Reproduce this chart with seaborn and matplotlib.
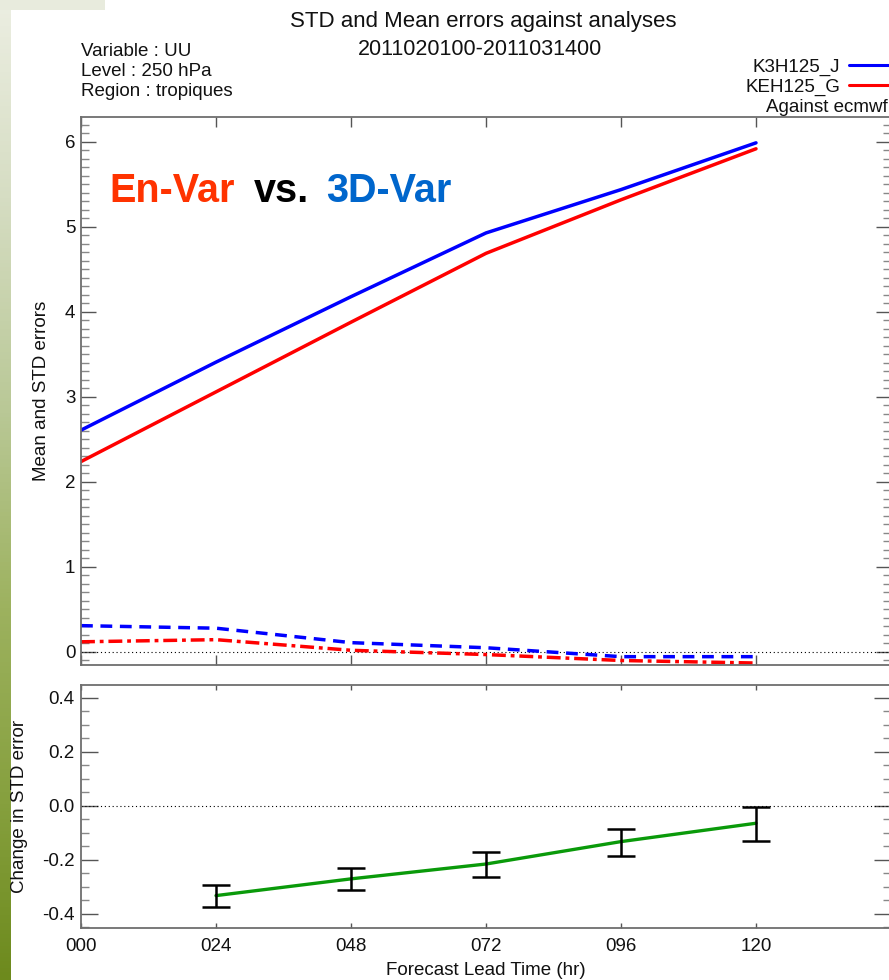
import numpy as np
import pandas as pd
import matplotlib
matplotlib.use("Agg")
import matplotlib.pyplot as plt
from matplotlib.lines import Line2D
from matplotlib.patches import Rectangle
from matplotlib.ticker import MultipleLocator, FixedLocator, FormatStrFormatter
from matplotlib.colors import LinearSegmentedColormap
import seaborn as sns

# ---- verification scores against ECMWF analyses, UU at 250 hPa, tropics ----
lead_hours = [0, 24, 48, 72, 96, 120]
tick_labels = ["000", "024", "048", "072", "096", "120"]

std_k3h = [2.61, 3.41, 4.18, 4.93, 5.44, 5.99]
std_keh = [2.24, 3.06, 3.88, 4.69, 5.32, 5.92]
mean_k3h = [0.31, 0.28, 0.11, 0.05, -0.055, -0.055]
mean_keh = [0.12, 0.145, 0.02, -0.03, -0.10, -0.13]

diff_hours = [24, 48, 72, 96, 120]
std_change = [-0.332, -0.270, -0.215, -0.132, -0.064]
ci_low = [-0.375, -0.310, -0.262, -0.184, -0.128]
ci_high = [-0.293, -0.230, -0.172, -0.085, -0.002]

exp_names = ["K3H125_J", "KEH125_G"]
exp_colors = ["#0000ff", "#ff0000"]

sns.set_style("ticks")
plt.rcParams["font.family"] = ["Liberation Sans", "DejaVu Sans"]
plt.rcParams["axes.unicode_minus"] = False

W, H = 889, 980
fig = plt.figure(figsize=(W / 100, H / 100), dpi=100, facecolor="white")


def fx(px):
    return px / W


def fy(py):
    return 1 - py / H


# slide backdrop: pale corner and olive side strip
bg = fig.add_axes([0, 0, 1, 1], zorder=-5)
bg.set_axis_off()
strip_cmap = LinearSegmentedColormap.from_list(
    "strip",
    [(0.0, "#eceee2"), (0.2, "#d6ddc3"), (0.42, "#b9c896"),
     (0.62, "#9db25f"), (0.82, "#86a03e"), (1.0, "#6d8a1d")],
)
bg.imshow(np.linspace(0, 1, 256).reshape(-1, 1), cmap=strip_cmap,
          extent=[0, 11, H, 0], aspect="auto")
bg.add_patch(Rectangle((0, 0), 105, 10, color="#e8ebdd", lw=0))
bg.set_xlim(0, W)
bg.set_ylim(H, 0)

spine_col = "#6e6e6e"
tick_col = "#555555"

# ---- upper panel: STD (solid) and mean (broken) errors ----
ax1 = fig.add_axes([fx(81), fy(665), (891 - 81) / W, (665 - 117) / H])
df = pd.DataFrame({
    "hour": lead_hours * 4,
    "value": std_k3h + std_keh + mean_k3h + mean_keh,
    "series": (["K3H125_J std"] * 6 + ["KEH125_G std"] * 6
               + ["K3H125_J mean"] * 6 + ["KEH125_G mean"] * 6),
})
palette = {"K3H125_J std": exp_colors[0], "KEH125_G std": exp_colors[1],
           "K3H125_J mean": exp_colors[0], "KEH125_G mean": exp_colors[1]}
dashes = {"K3H125_J std": "", "KEH125_G std": "",
          "K3H125_J mean": (3.4, 2.2), "KEH125_G mean": (4.0, 1.4, 1.1, 1.4)}
sns.lineplot(data=df, x="hour", y="value", hue="series", style="series",
             palette=palette, dashes=dashes, lw=2.5, legend=False, ax=ax1)
ax1.axhline(0, color="black", lw=0.8, ls=(0, (1, 2.5)), zorder=1)

ax1.set_xlim(0, 144)
ax1.set_ylim(-0.153, 6.294)
ax1.xaxis.set_major_locator(FixedLocator([0, 24, 48, 72, 96, 120, 144]))
ax1.yaxis.set_major_locator(MultipleLocator(1))
ax1.yaxis.set_minor_locator(MultipleLocator(0.1))
ax1.tick_params(axis="x", which="major", direction="in", length=7.5, width=1,
                color=tick_col, top=True, bottom=True, labelbottom=False)
ax1.tick_params(axis="y", which="major", direction="in", length=10.8, width=1,
                color=tick_col, left=True, right=True, labelsize=13.5, pad=4)
ax1.tick_params(axis="y", which="minor", direction="in", length=5.8, width=1,
                color="#888888", left=True, right=True)
ax1.set_xlabel("")
ax1.set_ylabel("Mean and STD errors", fontsize=13.5, color="#111111")
ax1.yaxis.label.set_va("center")
ax1.yaxis.set_label_coords((42 - 81) / 810, 0.5)

# ---- lower panel: change in STD error with confidence bars ----
ax2 = fig.add_axes([fx(81), fy(928), (891 - 81) / W, (928 - 685) / H])
sns.lineplot(x=diff_hours, y=std_change, color="#0a9a0a", lw=2.4, ax=ax2)
ax2.errorbar(diff_hours, std_change,
             yerr=[np.subtract(std_change, ci_low), np.subtract(ci_high, std_change)],
             fmt="none", ecolor="black", elinewidth=1.8, capsize=10, capthick=1.8,
             zorder=3)
ax2.axhline(0, color="black", lw=0.8, ls=(0, (1, 2.5)), zorder=1)

ax2.set_xlim(0, 144)
ax2.set_ylim(-0.452, 0.448)
ax2.xaxis.set_major_locator(FixedLocator(lead_hours))
ax2.set_xticklabels(tick_labels)
ax2.yaxis.set_major_locator(MultipleLocator(0.2))
ax2.yaxis.set_minor_locator(MultipleLocator(0.05))
ax2.yaxis.set_major_formatter(FormatStrFormatter("%.1f"))
ax2.tick_params(axis="x", which="major", direction="in", length=3.6, width=1,
                color=tick_col, top=True, bottom=True, labelsize=13.5, pad=7)
ax2.tick_params(axis="y", which="major", direction="in", length=12, width=1,
                color=tick_col, left=True, right=True, labelsize=13.5, pad=4.5)
ax2.tick_params(axis="y", which="minor", direction="in", length=5.8, width=1,
                color="#888888", left=True, right=True)
ax2.set_xlabel("Forecast Lead Time (hr)", fontsize=13.5, color="#111111", labelpad=5)
ax2.set_ylabel("Change in STD error", fontsize=13.5, color="#111111")
ax2.yaxis.label.set_va("center")
ax2.yaxis.set_label_coords((20 - 81) / 810, 0.5)

for ax in (ax1, ax2):
    for sp in ax.spines.values():
        sp.set_color(spine_col)
        sp.set_linewidth(1.3)
    for lab in ax.get_xticklabels() + ax.get_yticklabels():
        lab.set_color("#111111")

# ---- header texts ----
txt = "#111111"
fig.text(fx(483), fy(26.5), "STD and Mean errors against analyses",
         ha="center", va="baseline", fontsize=16, color=txt)
fig.text(fx(480), fy(55), "2011020100-2011031400",
         ha="center", va="baseline", fontsize=15.5, color=txt)
for py, line in zip([56, 76, 96.5],
                    ["Variable : UU", "Level : 250 hPa", "Region : tropiques"]):
    fig.text(fx(81), fy(py), line, ha="left", va="baseline", fontsize=13.5, color=txt)

for py, name, col in zip([71.5, 91.5], exp_names, exp_colors):
    fig.text(fx(840), fy(py), name, ha="right", va="baseline", fontsize=13.5, color=txt)
    fig.add_artist(Line2D([fx(849), fx(892)], [fy(py - 6.5)] * 2, color=col, lw=2.2))
fig.text(fx(766.5), fy(112.5), "Against ecmwf", ha="left", va="baseline",
         fontsize=13.5, color=txt)

# ---- comparison banner ----
for px, word, col in zip([109, 254, 326], ["En-Var", "vs.", "3D-Var"],
                         ["#ff3300", "#000000", "#0066cc"]):
    fig.text(fx(px), fy(201.5), word, ha="left", va="baseline", fontsize=28.5,
             fontweight="bold", color=col)

fig.savefig("out.png", dpi=100, facecolor="white")
